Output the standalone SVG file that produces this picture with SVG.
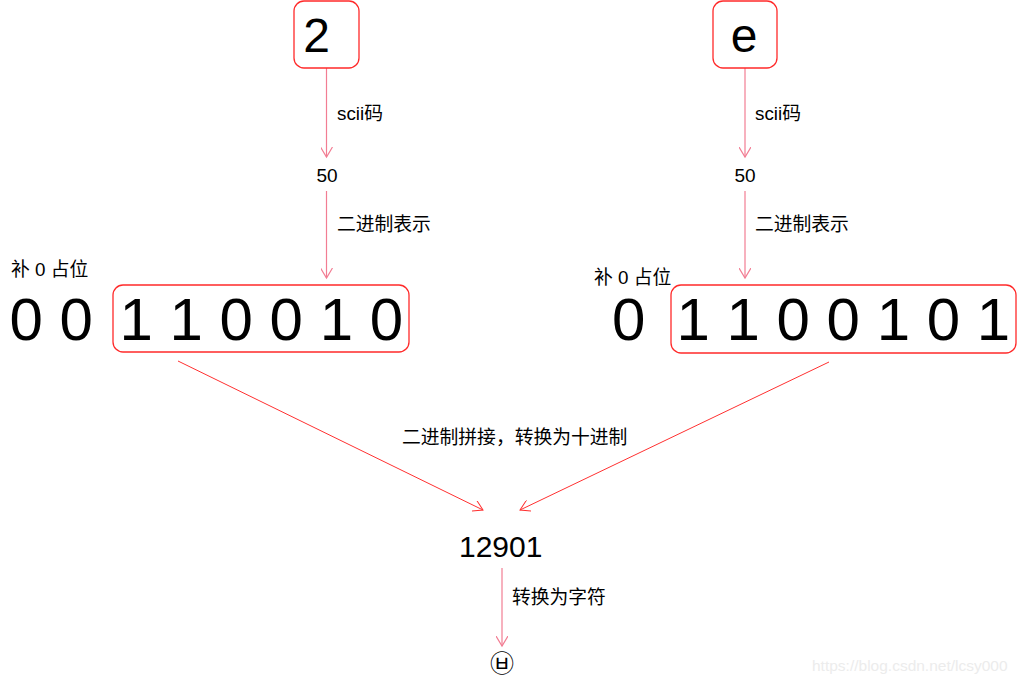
<svg xmlns="http://www.w3.org/2000/svg" width="1020" height="684" viewBox="0 0 1020 684">
<style>
text{font-family:"Liberation Sans","Noto Sans CJK SC",sans-serif;fill:#000}
.box{fill:#fff;stroke:#ff2a2a;stroke-width:1.3}
.big{font-size:60px}
.lbl{font-size:18.8px}
.num{font-size:19px;text-anchor:middle}
.va{stroke:#f27d93;stroke-width:1.2;fill:none}
.sa{stroke:#ff3030;stroke-width:1;fill:none}
</style>
<defs>
<marker id="ap" markerWidth="12" markerHeight="12" refX="10" refY="6" orient="auto" markerUnits="userSpaceOnUse"><path d="M0,0 L10,6 L0,12" fill="none" stroke="#f27d93" stroke-width="1.2"/></marker>
<marker id="ar" markerWidth="12" markerHeight="12" refX="10" refY="6" orient="auto" markerUnits="userSpaceOnUse"><path d="M0,0 L10,6 L0,12" fill="none" stroke="#ff3030" stroke-width="1"/></marker>
</defs>
<rect width="1020" height="684" fill="#fff"/>
<g id="connectors">
<line class="va" x1="326.5" y1="68" x2="326.5" y2="157" marker-end="url(#ap)"/>
<line class="va" x1="326.5" y1="191" x2="326.5" y2="278" marker-end="url(#ap)"/>
<line class="va" x1="745" y1="68" x2="745" y2="157" marker-end="url(#ap)"/>
<line class="va" x1="745" y1="191" x2="745" y2="278" marker-end="url(#ap)"/>
<line class="sa" x1="178" y1="361" x2="483" y2="510" marker-end="url(#ar)"/>
<line class="sa" x1="829" y1="362" x2="520" y2="510" marker-end="url(#ar)"/>
<line class="va" x1="502" y1="568" x2="502" y2="646" marker-end="url(#ap)"/>
<text class="lbl" x="337" y="120">scii码</text>
<text class="lbl" x="337" y="231">二进制表示</text>
<text class="lbl" x="755" y="120">scii码</text>
<text class="lbl" x="755" y="231">二进制表示</text>
<text class="lbl" x="402" y="444">二进制拼接，转换为十进制</text>
<text class="lbl" x="512" y="604">转换为字符</text>
</g>
<g id="node-2">
<rect class="box" x="294" y="1" width="65" height="67" rx="10"/>
<text x="316.5" y="52" font-size="48" text-anchor="middle">2</text>
</g>
<g id="node-e">
<rect class="box" x="713" y="1" width="64" height="67" rx="10"/>
<text x="744" y="52" font-size="48" text-anchor="middle">e</text>
</g>
<g id="node-50-left"><text class="num" x="327" y="182">50</text></g>
<g id="node-50-right"><text class="num" x="745" y="182">50</text></g>
<g id="node-bin-left">
<text class="lbl" x="11" y="276">补 0 占位</text>
<text class="big" x="9.5" y="340">0 0</text>
<rect class="box" x="113" y="285" width="296" height="67" rx="10"/>
<text class="big" x="119.5" y="340">1 1 0 0 1 0</text>
</g>
<g id="node-bin-right">
<text class="lbl" x="594" y="284">补 0 占位</text>
<text class="big" x="612" y="340">0</text>
<rect class="box" x="671" y="285" width="345" height="68" rx="10"/>
<text class="big" x="676.5" y="340">1 1 0 0 1 0 1</text>
</g>
<g id="node-12901"><text x="459" y="557" font-size="30">12901</text></g>
<g id="node-char"><text x="502" y="672" font-size="24" text-anchor="middle">㉥</text></g>
<text x="812" y="671" font-size="15.5" style="fill:#ececec">https://blog.csdn.net/lcsy000</text>
</svg>
